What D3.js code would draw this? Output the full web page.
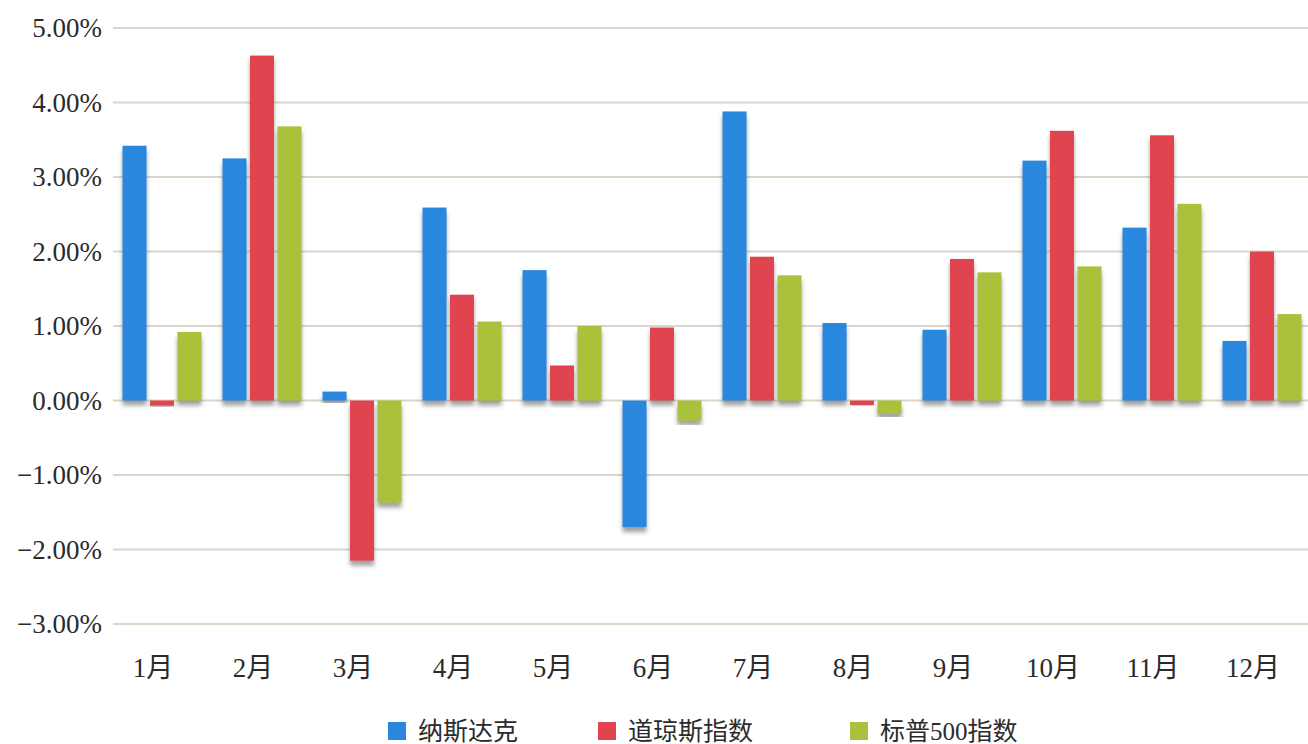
<!DOCTYPE html>
<html><head><meta charset="utf-8">
<script src="https://cdn.jsdelivr.net/npm/d3@7"></script>
<style>
body{margin:0;background:#fff;}
svg{display:block;}
text{font-family:'Liberation Serif','Times New Roman','DejaVu Serif','Noto Sans CJK SC',serif;fill:#2b2b2b;}
</style></head>
<body><svg id="c" width="1308" height="744"></svg>
<script>
const months = ["1月","2月","3月","4月","5月","6月","7月","8月","9月","10月","11月","12月"];
const seriesNames = ["纳斯达克","道琼斯指数","标普500指数"];
const seriesColors = ["#2a87de","#e0454f","#a9c13b"];
const nasdaq = [3.42, 3.25, 0.12, 2.59, 1.75, -1.70, 3.88, 1.04, 0.95, 3.22, 2.32, 0.80];
const dow    = [-0.07, 4.63, -2.15, 1.42, 0.47, 0.98, 1.93, -0.06, 1.90, 3.62, 3.56, 2.00];
const sp500  = [0.92, 3.68, -1.37, 1.06, 1.00, -0.27, 1.68, -0.18, 1.72, 1.80, 2.64, 1.16];
const yTicks = [5,4,3,2,1,0,-1,-2,-3];
const yTickLabels = ["5.00%","4.00%","3.00%","2.00%","1.00%","0.00%","\u22121.00%","\u22122.00%","\u22123.00%"];

const FONT = "'Liberation Serif','Times New Roman','DejaVu Serif','Noto Sans CJK SC',serif";
const svg = d3.select("#c");
const defs = svg.append("defs");
const f = defs.append("filter").attr("id","sh").attr("x","-30%").attr("y","-10%").attr("width","160%").attr("height","130%");
f.append("feDropShadow").attr("dx",0).attr("dy",5).attr("stdDeviation",2).attr("flood-color","#555").attr("flood-opacity",0.55);

const y = d3.scaleLinear().domain([-3,5]).range([624,28]);
const x = d3.scaleBand().domain(months).range([112,1312]).paddingInner(0.21).paddingOuter(0.105);
const xs = d3.scaleBand().domain(seriesNames).range([0,x.bandwidth()]).paddingInner(0.125);

svg.append("g").selectAll("line").data(yTicks).join("line")
  .attr("x1",113).attr("x2",1308)
  .attr("y1",d=>y(d)).attr("y2",d=>y(d))
  .attr("stroke","#d9d6c9").attr("stroke-width",2);

svg.append("g").selectAll("text").data(yTicks).join("text")
  .attr("x",102).attr("y",d=>y(d)+9)
  .attr("text-anchor","end").attr("font-size",27).attr("font-family",FONT)
  .text((d,i)=>yTickLabels[i]);

const data = [nasdaq, dow, sp500];
const rows = [];
months.forEach((m,i)=>data.forEach((s,j)=>rows.push({m, s:seriesNames[j], v:s[i], c:seriesColors[j]})));

svg.append("g").selectAll("rect").data(rows).join("rect")
  .attr("x",d=>x(d.m)+xs(d.s))
  .attr("width",xs.bandwidth())
  .attr("y",d=>y(Math.max(0,d.v)))
  .attr("height",d=>Math.abs(y(d.v)-y(0)))
  .attr("fill",d=>d.c)
  .attr("filter","url(#sh)");

svg.append("g").selectAll("text").data(months).join("text")
  .attr("x",d=>x(d)+x.bandwidth()/2-9).attr("y",677)
  .attr("text-anchor","middle").attr("font-size",27).attr("font-family",FONT)
  .text(d=>d);

const legX = [388, 598, 850];
const lg = svg.append("g").selectAll("g").data(seriesNames).join("g")
  .attr("transform",(d,i)=>`translate(${legX[i]},0)`);
lg.append("rect").attr("x",0).attr("y",722).attr("width",18).attr("height",18)
  .attr("fill",(d,i)=>seriesColors[i]);
lg.append("text").attr("x",30).attr("y",740).attr("font-size",25).attr("font-family",FONT).text(d=>d);
</script></body></html>
